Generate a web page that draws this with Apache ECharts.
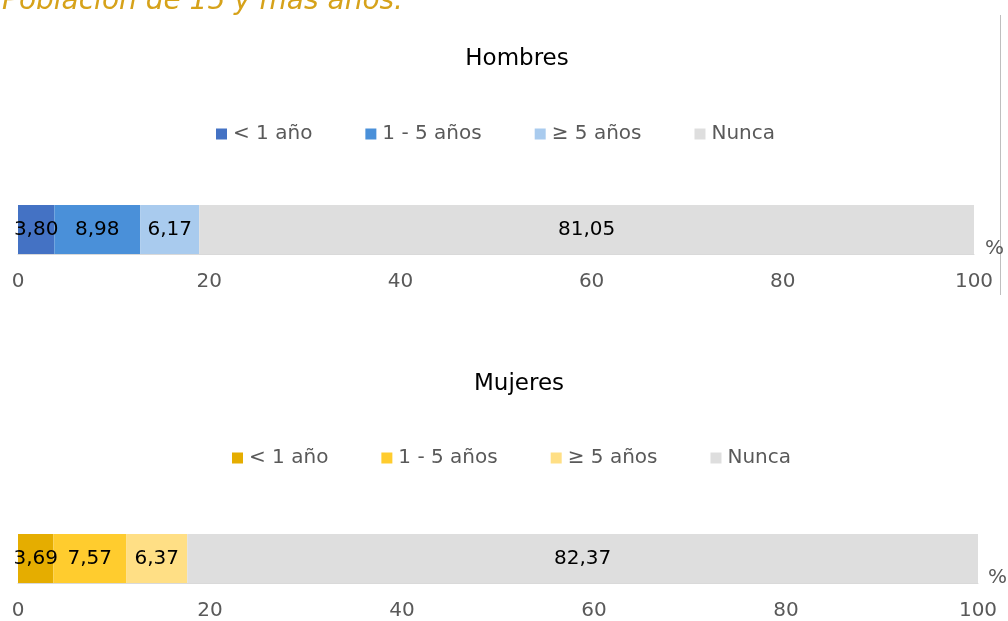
<!DOCTYPE html>
<html><head><meta charset="utf-8">
<script src="https://cdn.jsdelivr.net/npm/echarts@6/dist/echarts.min.js"></script>
<style>
html,body{margin:0;padding:0;background:#fff;width:1008px;height:621px;overflow:hidden;}
#top{position:absolute;left:0;top:0;width:1008px;height:320px;}
#bot{position:absolute;left:0;top:320px;width:1008px;height:301px;}
</style></head>
<body>
<div id="top"></div><div id="bot"></div>
<script>
var mainTitle = 'Población de 15 y más años.';
var seriesNames = ['< 1 año', '1 - 5 años', '≥ 5 años', 'Nunca'];
var hombresValues = [3.80, 8.98, 6.17, 81.05];
var mujeresValues = [3.69, 7.57, 6.37, 82.37];
var hombresColors = ['#4472C4', '#4A90D9', '#A9CBEE', '#DEDEDE'];
var mujeresColors = ['#E5AD00', '#FFCC2E', '#FFDF85', '#DEDEDE'];
var xTicks = [0, 20, 40, 60, 80, 100];

var FONT = 'DejaVu Sans';

function build(cfg) {
  var series = seriesNames.map(function (n, i) {
    return {
      name: n, type: 'bar', stack: 'total', barWidth: cfg.barH,
      itemStyle: { color: cfg.colors[i] },
      label: {
        show: true, position: 'inside', color: '#000', fontSize: 20, fontFamily: FONT,
        formatter: function (p) { return p.value.toFixed(2).replace('.', ','); }
      },
      emphasis: { disabled: true },
      data: [cfg.values[i]]
    };
  });
  var titles = [{
    text: cfg.name, left: cfg.titleLeft, top: cfg.titleTop, textAlign: 'center',
    textStyle: { fontFamily: FONT, fontSize: 23, fontWeight: 'normal', color: '#000' }
  }];
  if (cfg.main) {
    titles.push({
      text: mainTitle, left: -3, top: -17,
      textStyle: { fontFamily: FONT, fontSize: 28, fontStyle: 'italic', fontWeight: 'normal', color: '#D6A21A' }
    });
  }
  return {
    animation: false,
    title: titles,
    legend: {
      data: seriesNames, left: cfg.legendLeft, top: cfg.legendTop, icon: 'rect',
      itemWidth: 11, itemHeight: 11, itemGap: 53, selectedMode: false,
      textStyle: { fontFamily: FONT, fontSize: 20, color: '#595959', padding: [0, 0, 0, 1] }
    },
    grid: { left: 18, right: cfg.right, top: cfg.gridTop, height: cfg.barH, containLabel: false },
    xAxis: {
      type: 'value', min: xTicks[0], max: xTicks[xTicks.length - 1], interval: 20,
      name: '%', nameLocation: 'end', nameGap: cfg.nameGap,
      nameTextStyle: { fontFamily: FONT, fontSize: 20, color: '#595959', verticalAlign: 'bottom', lineHeight: 10 },
      axisLine: { show: true, lineStyle: { color: '#D9D9D9' } },
      axisTick: { show: false }, splitLine: { show: false },
      axisLabel: { fontFamily: FONT, fontSize: 20, color: '#595959', margin: 18 }
    },
    yAxis: { type: 'category', data: [cfg.name], show: false },
    graphic: cfg.frame ? [{
      type: 'line', shape: { x1: 1000.5, y1: 15, x2: 1000.5, y2: 295 },
      style: { stroke: '#BFBFBF', lineWidth: 1 }
    }] : [],
    series: series
  };
}

var c1 = echarts.init(document.getElementById('top'));
c1.setOption(build({
  name: 'Hombres', values: hombresValues, colors: hombresColors, main: true, frame: true,
  titleLeft: 512, titleTop: 43, legendLeft: 211, legendTop: 119,
  gridTop: 205, barH: 49, right: 34, nameGap: 11
}));
var c2 = echarts.init(document.getElementById('bot'));
c2.setOption(build({
  name: 'Mujeres', values: mujeresValues, colors: mujeresColors, main: false, frame: false,
  titleLeft: 514, titleTop: 48, legendLeft: 227, legendTop: 123,
  gridTop: 214, barH: 50, right: 26, nameGap: 10
}));
</script>
</body></html>
